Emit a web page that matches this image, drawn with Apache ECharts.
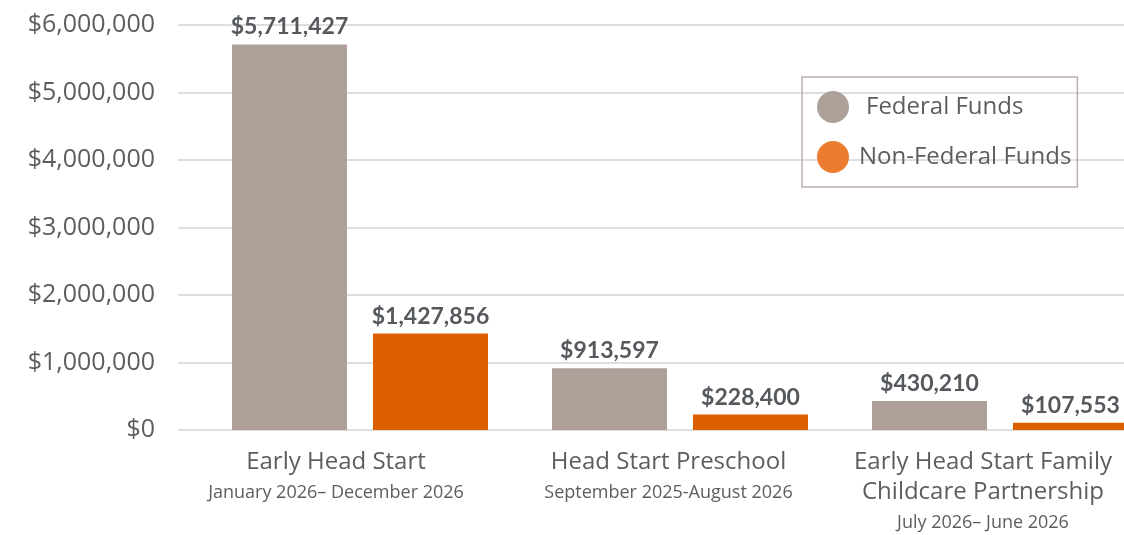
<!DOCTYPE html>
<html>
<head>
<meta charset="utf-8">
<script src="https://cdn.jsdelivr.net/npm/echarts@6/dist/echarts.min.js"></script>
<style>
  html, body { margin: 0; padding: 0; background: #fff; }
  #chart { width: 1124px; height: 535px; }
</style>
</head>
<body>
<div id="chart"></div>
<script>
// programs and their periods
var programs = ['Early Head Start', 'Head Start Preschool', 'Early Head Start Family\nChildcare Partnership'];
var periods = ['January 2026\u2013 December 2026', 'September 2025-August 2026', 'July 2026\u2013 June 2026'];

// funding amounts
var federalFunds = [5711427, 913597, 430210];
var nonFederalFunds = [1427856, 228400, 107553];

var yTicks = { min: 0, max: 6000000, interval: 1000000 };

var fontName = 'Open Sans';
var boldFont = 'Lato';
var textColor = '#5b5d60';

// labels under the bars sit a bit left of the bar pairs
var labelShift = [48, 23, 34];

function money(v) {
    return '$' + Number(v).toLocaleString('en-US');
}

var chart = echarts.init(document.getElementById('chart'));

var catLabels = programs.map(function (p, i) {
    return p + '\n' + periods[i];
});

var rich = {};
labelShift.forEach(function (s, i) {
    rich['a' + i] = { fontFamily: fontName, fontSize: 24, lineHeight: 30, color: textColor, padding: [0, s, 0, 0] };
    rich['b' + i] = { fontFamily: fontName, fontSize: 18, lineHeight: 31, color: textColor, padding: [0, s, 0, 0] };
});

var valueLabel = {
    show: true,
    position: 'top',
    distance: 6,
    fontFamily: boldFont,
    fontSize: 23,
    fontWeight: 'bold',
    color: '#55595d',
    formatter: function (p) { return money(p.value); }
};

var option = {
    animation: false,
    textStyle: { fontFamily: fontName },
    legend: {
        orient: 'vertical',
        left: 802,
        top: 77,
        padding: [14, 6, 14, 15],
        itemWidth: 32,
        itemHeight: 32,
        itemGap: 18,
        borderColor: '#bcb0a9',
        borderWidth: 1.5,
        borderRadius: 0,
        icon: 'circle',
        textStyle: { fontFamily: fontName, fontSize: 24, color: textColor, padding: [0, 0, 0, 5] },
        data: [
            { name: 'Federal Funds', itemStyle: { color: '#ada099' },
              textStyle: { padding: [0, 0, 0, 12] } },
            { name: 'Non-Federal Funds', itemStyle: { color: '#ec7d30' } }
        ]
    },
    grid: [
        { left: 178, right: 0, top: 25, bottom: 105, outerBoundsMode: 'none' },
        { left: 200, width: 960, top: 25, bottom: 105, outerBoundsMode: 'none' }
    ],
    xAxis: [
        { gridIndex: 0, type: 'value', min: 0, max: 1, show: false },
        {
            gridIndex: 1,
            type: 'category',
            data: catLabels,
            axisLine: { show: false },
            axisTick: { show: false },
            axisLabel: {
                interval: 0,
                margin: 17,
                formatter: function (v, idx) {
                    var lines = v.split('\n');
                    var out = [];
                    for (var i = 0; i < lines.length - 1; i++) out.push('{a' + idx + '|' + lines[i] + '}');
                    out.push('{b' + idx + '|' + lines[lines.length - 1] + '}');
                    return out.join('\n');
                },
                rich: rich
            }
        }
    ],
    yAxis: [
        {
            gridIndex: 0,
            type: 'value',
            min: yTicks.min,
            max: yTicks.max,
            interval: yTicks.interval,
            axisLine: { show: false },
            axisTick: { show: false },
            axisLabel: {
                margin: 23,
                fontFamily: fontName,
                fontSize: 25,
                color: textColor,
                formatter: money
            },
            splitLine: { lineStyle: { color: '#dedede', width: 2 } }
        },
        {
            gridIndex: 1,
            type: 'value',
            min: yTicks.min,
            max: yTicks.max,
            interval: yTicks.interval,
            show: false
        }
    ],
    series: [
        {
            name: 'Federal Funds',
            type: 'bar',
            xAxisIndex: 1,
            yAxisIndex: 1,
            barWidth: 115,
            barGap: '22.6%',
            itemStyle: { color: '#aea099' },
            label: valueLabel,
            data: federalFunds
        },
        {
            name: 'Non-Federal Funds',
            type: 'bar',
            xAxisIndex: 1,
            yAxisIndex: 1,
            barWidth: 115,
            itemStyle: { color: '#de5f00' },
            label: valueLabel,
            data: nonFederalFunds
        }
    ]
};

chart.setOption(option);
</script>
</body>
</html>
